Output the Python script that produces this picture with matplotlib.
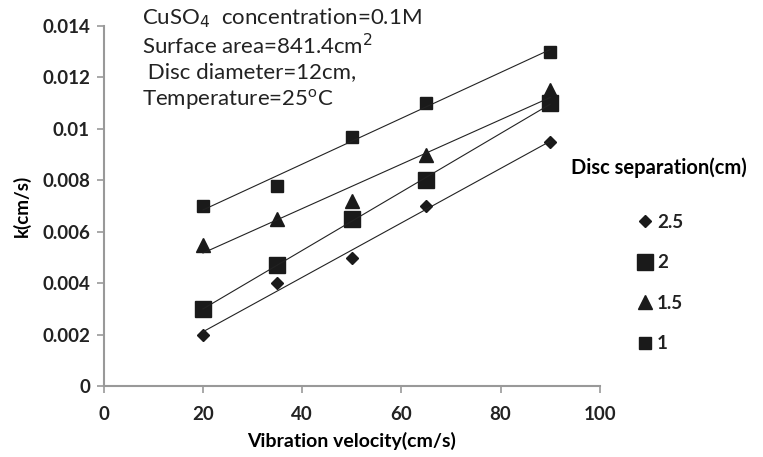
import numpy as np
import matplotlib.pyplot as plt

plt.rcParams['font.family'] = ['Lato', 'DejaVu Sans']

velocity = [20, 35, 50, 65, 90]
k_25 = [0.002, 0.004, 0.005, 0.007, 0.0095]
k_2 = [0.003, 0.0047, 0.0065, 0.008, 0.011]
k_15 = [0.0055, 0.0065, 0.0072, 0.009, 0.0115]
k_1 = [0.007, 0.0078, 0.0097, 0.011, 0.013]
separations = ['2.5', '2', '1.5', '1']

yticks = [0, 0.002, 0.004, 0.006, 0.008, 0.01, 0.012, 0.014]
ytick_labels = ['0', '0.002', '0.004', '0.006', '0.008', '0.01', '0.012', '0.014']
xticks = [0, 20, 40, 60, 80, 100]

fig = plt.figure(figsize=(7.63, 4.57), dpi=100)
ax = fig.add_axes([0.136, 0.155, 0.65, 0.788])

series = [k_25, k_2, k_15, k_1]
markers = ['D', 's', '^', 's']
sizes = [6, 12, 10, 9]
x = np.array(velocity)
for vals, lab, m, s in zip(series, separations, markers, sizes):
    ax.plot(x, vals, linestyle='none', marker=m, markersize=s,
            color='#1a1a1a', label=lab)
    # linear trendline
    p = np.polyfit(x, vals, 1)
    ax.plot(x[[0, -1]], np.polyval(p, x[[0, -1]]), color='#222222', lw=0.8)

ax.set_xlim(0, 100)
ax.set_ylim(0, 0.014)
ax.set_xticks(xticks)
ax.set_yticks(yticks)
ax.set_yticklabels(ytick_labels)
for lbl in ax.get_xticklabels() + ax.get_yticklabels():
    lbl.set_fontweight('bold')
    lbl.set_fontsize(13.5)
    lbl.set_color('#222222')
ax.tick_params(length=5, width=1.2, color='#999999', pad=5)
ax.tick_params(axis='x', pad=9)
for sp in ['top', 'right']:
    ax.spines[sp].set_visible(False)
for sp in ['left', 'bottom']:
    ax.spines[sp].set_color('#999999')
    ax.spines[sp].set_linewidth(1.5)

ax.set_xlabel('Vibration velocity(cm/s)', fontweight='bold', fontsize=14, labelpad=7)
ax.set_ylabel('k(cm/s)', fontweight='bold', fontsize=13.5, labelpad=8)

info = ['CuSO$_4$  concentration=0.1M', 'Surface area=841.4cm$^2$',
        ' Disc diameter=12cm,', 'Temperature=25$^\\mathregular{o}$C']
for i, t in enumerate(info):
    fig.text(0.186, 0.96 - i * 0.059, t, fontsize=16, color='#222222', va='center')

leg = fig.legend(loc='upper left', bbox_to_anchor=(0.744, 0.664), frameon=False,
                 title='Disc separation(cm)', labelspacing=1.25, handletextpad=0.15,
                 prop={'weight': 'bold', 'size': 13.5}, handlelength=1.0,
                 borderaxespad=0, borderpad=0.2)
leg.get_title().set_fontweight('bold')
leg.get_title().set_fontsize(14.5)
leg._legend_box.sep = 26
for t in leg.get_texts():
    t.set_color('#222222')

fig.savefig('out.png', dpi=100)
